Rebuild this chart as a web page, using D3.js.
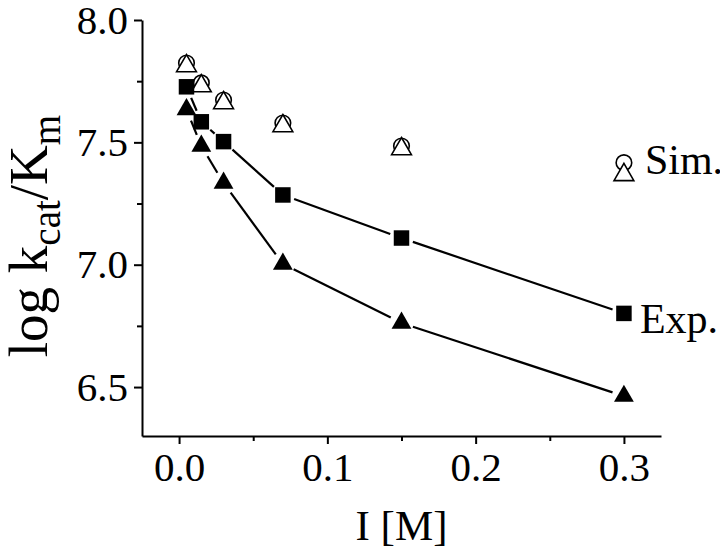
<!DOCTYPE html>
<html>
<head>
<meta charset="utf-8">
<script src="https://cdn.jsdelivr.net/npm/d3@7"></script>
<style>
  html, body { margin: 0; padding: 0; background: #fff; }
  svg { display: block; }
  text { font-family: "Liberation Serif", "Times New Roman", serif; fill: #000; }
</style>
</head>
<body>
<svg id="chart" width="720" height="548"></svg>
<script>
// ---- data ----
const ionicStrength = [0.005, 0.015, 0.03, 0.07, 0.15, 0.3];
const expSquare   = [7.727, 7.584, 7.503, 7.285, 7.109, 6.801];
const expTriangle = [7.634, 7.485, 7.334, 7.003, 6.762, 6.463];
const simCircle   = [7.824, 7.743, 7.673, 7.579, 7.485, 7.417];
const simTriangle = [7.812, 7.730, 7.661, 7.567, 7.473, 7.367];
const xTicks = [0.0, 0.1, 0.2, 0.3];
const xMinorTicks = [0.05, 0.15, 0.25];
const yTicks = [6.5, 7.0, 7.5, 8.0];
const yMinorTicks = [6.75, 7.25, 7.75];
const xTitle = "I [M]";
const simLabel = "Sim.";
const expLabel = "Exp.";

(function () {
// ---- layout ----
const svg = d3.select("#chart");
const mLeft = 142, mRight = 661, mTop = 20, mBottom = 436;
const x = d3.scaleLinear().domain([-0.025, 0.325]).range([mLeft, mRight]);
const y = d3.scaleLinear().domain([6.3, 8.0]).range([mBottom, mTop]);
const fontSize = 41;

// ---- axes ----
const gx = svg.append("g").attr("transform", `translate(0,${mBottom})`);
gx.call(d3.axisBottom(x).tickValues(xTicks).tickFormat(d3.format(".1f")).tickSize(8).tickPadding(8).tickSizeOuter(0));
const gxm = svg.append("g").attr("transform", `translate(0,${mBottom})`);
gxm.call(d3.axisBottom(x).tickValues(xMinorTicks).tickFormat("").tickSize(5).tickSizeOuter(0));
gxm.select(".domain").remove();

const gy = svg.append("g").attr("transform", `translate(${mLeft},0)`);
gy.call(d3.axisLeft(y).tickValues(yTicks).tickFormat(d3.format(".1f")).tickSize(8).tickPadding(6).tickSizeOuter(0));
const gym = svg.append("g").attr("transform", `translate(${mLeft},0)`);
gym.call(d3.axisLeft(y).tickValues(yMinorTicks).tickFormat("").tickSize(5).tickSizeOuter(0));
gym.select(".domain").remove();

svg.selectAll(".domain").attr("stroke", "#000").attr("stroke-width", 2);
svg.selectAll(".tick line").attr("stroke", "#000").attr("stroke-width", 2);
svg.selectAll(".tick text")
  .style("font-family", '"Liberation Serif", "Times New Roman", serif')
  .style("font-size", fontSize + "px")
  .attr("fill", "#000");

// ---- titles ----
svg.append("text")
  .attr("x", (mLeft + mRight) / 2)
  .attr("y", 540)
  .attr("text-anchor", "middle")
  .style("font-size", "43px")
  .text(xTitle);

const yl = svg.append("text")
  .attr("transform", "translate(47,236) rotate(-90)")
  .attr("text-anchor", "middle")
  .style("font-size", "55px");
yl.append("tspan").text("log k");
yl.append("tspan").attr("dy", 13).style("font-size", "39px").text("cat");
yl.append("tspan").attr("dy", -13).text("/K");
yl.append("tspan").attr("dy", 13).style("font-size", "39px").text("m");

// ---- connecting lines with gaps ----
function gappedSegments(values, gap) {
  const pts = ionicStrength.map((d, i) => [x(d), y(values[i])]);
  const segs = [];
  for (let i = 0; i < pts.length - 1; i++) {
    const [x1, y1] = pts[i], [x2, y2] = pts[i + 1];
    const len = Math.hypot(x2 - x1, y2 - y1);
    if (len <= 2 * gap) continue;
    const ux = (x2 - x1) / len, uy = (y2 - y1) / len;
    segs.push([x1 + ux * gap, y1 + uy * gap, x2 - ux * gap, y2 - uy * gap]);
  }
  return segs;
}
[expSquare, expTriangle].forEach(vals => {
  svg.append("g").selectAll("line").data(gappedSegments(vals, 12)).join("line")
    .attr("x1", d => d[0]).attr("y1", d => d[1])
    .attr("x2", d => d[2]).attr("y2", d => d[3])
    .attr("stroke", "#000").attr("stroke-width", 2.2);
});

// ---- markers ----
const triSym = d3.symbol().type(d3.symbolTriangle).size(170);
const sqSym = d3.symbol().type(d3.symbolSquare).size(240);

svg.append("g").selectAll("circle").data(ionicStrength).join("circle")
  .attr("cx", d => x(d)).attr("cy", (d, i) => y(simCircle[i]))
  .attr("r", 7.8).attr("fill", "#fff").attr("stroke", "#000").attr("stroke-width", 1.6);
svg.append("g").selectAll("path").data(ionicStrength).join("path")
  .attr("d", triSym)
  .attr("transform", (d, i) => `translate(${x(d)},${y(simTriangle[i])})`)
  .attr("fill", "#fff").attr("stroke", "#000").attr("stroke-width", 1.6);

svg.append("g").selectAll("path").data(ionicStrength).join("path")
  .attr("d", sqSym)
  .attr("transform", (d, i) => `translate(${x(d)},${y(expSquare[i])})`)
  .attr("fill", "#000");
svg.append("g").selectAll("path").data(ionicStrength).join("path")
  .attr("d", triSym)
  .attr("transform", (d, i) => `translate(${x(d)},${y(expTriangle[i])})`)
  .attr("fill", "#000");

// ---- annotations ----
const last = ionicStrength.length - 1;
svg.append("text")
  .attr("x", x(ionicStrength[last]) + 21)
  .attr("y", y(simCircle[last]) + 11)
  .style("font-size", "42px")
  .text(simLabel);
svg.append("text")
  .attr("x", x(ionicStrength[last]) + 16)
  .attr("y", y(expSquare[last]) + 20)
  .style("font-size", "42px")
  .text(expLabel);
})();
</script>
</body>
</html>
